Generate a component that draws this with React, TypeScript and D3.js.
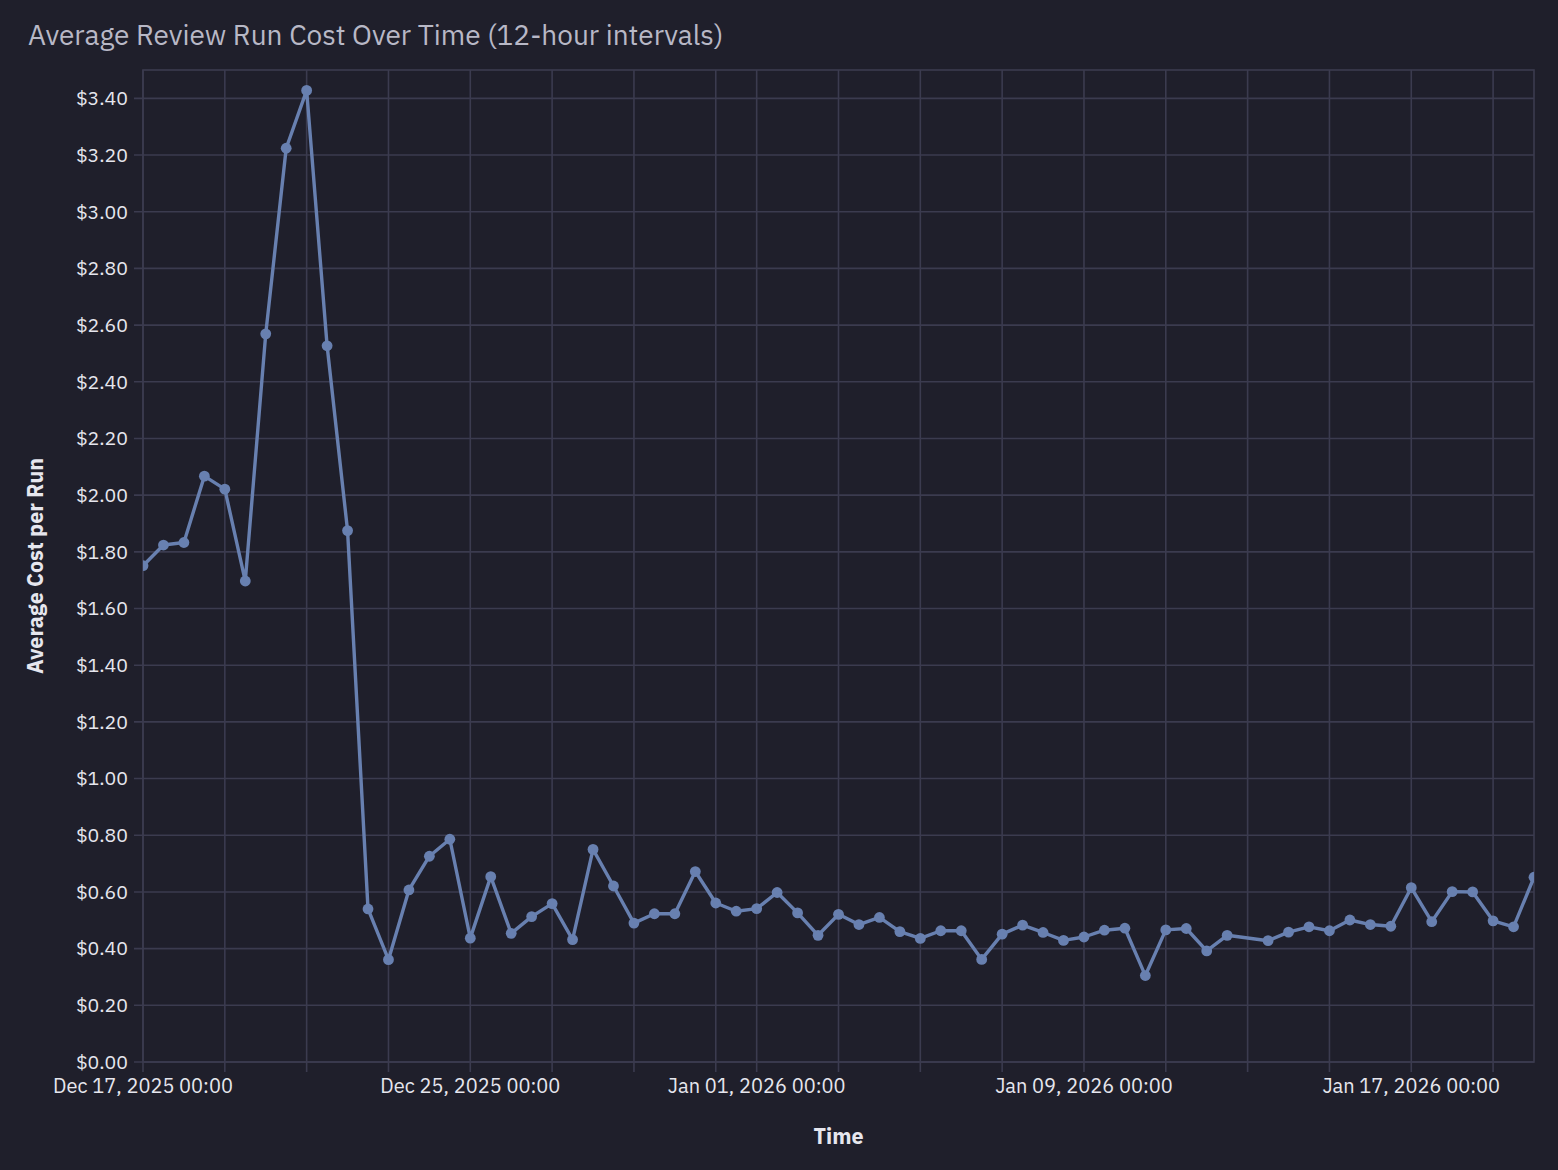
import * as React from "react";
import * as d3 from "d3";

// 12-hour buckets (the Jan 13 00:00 bucket has no data)
const times = [
  "2025-12-17 00:00", "2025-12-17 12:00", "2025-12-18 00:00", "2025-12-18 12:00",
  "2025-12-19 00:00", "2025-12-19 12:00", "2025-12-20 00:00", "2025-12-20 12:00",
  "2025-12-21 00:00", "2025-12-21 12:00", "2025-12-22 00:00", "2025-12-22 12:00",
  "2025-12-23 00:00", "2025-12-23 12:00", "2025-12-24 00:00", "2025-12-24 12:00",
  "2025-12-25 00:00", "2025-12-25 12:00", "2025-12-26 00:00", "2025-12-26 12:00",
  "2025-12-27 00:00", "2025-12-27 12:00", "2025-12-28 00:00", "2025-12-28 12:00",
  "2025-12-29 00:00", "2025-12-29 12:00", "2025-12-30 00:00", "2025-12-30 12:00",
  "2025-12-31 00:00", "2025-12-31 12:00", "2026-01-01 00:00", "2026-01-01 12:00",
  "2026-01-02 00:00", "2026-01-02 12:00", "2026-01-03 00:00", "2026-01-03 12:00",
  "2026-01-04 00:00", "2026-01-04 12:00", "2026-01-05 00:00", "2026-01-05 12:00",
  "2026-01-06 00:00", "2026-01-06 12:00", "2026-01-07 00:00", "2026-01-07 12:00",
  "2026-01-08 00:00", "2026-01-08 12:00", "2026-01-09 00:00", "2026-01-09 12:00",
  "2026-01-10 00:00", "2026-01-10 12:00", "2026-01-11 00:00", "2026-01-11 12:00",
  "2026-01-12 00:00", "2026-01-12 12:00", "2026-01-13 12:00",
  "2026-01-14 00:00", "2026-01-14 12:00", "2026-01-15 00:00", "2026-01-15 12:00",
  "2026-01-16 00:00", "2026-01-16 12:00", "2026-01-17 00:00", "2026-01-17 12:00",
  "2026-01-18 00:00", "2026-01-18 12:00", "2026-01-19 00:00", "2026-01-19 12:00",
  "2026-01-20 00:00",
];

const avgCost = [
  1.751, 1.824, 1.833, 2.067, 2.021, 1.697, 2.569, 3.224, 3.428, 2.527, 1.875, 0.54,
  0.361, 0.607, 0.726, 0.786, 0.437, 0.654, 0.454, 0.513, 0.559, 0.432, 0.75, 0.621,
  0.49, 0.523, 0.523, 0.672, 0.561, 0.532, 0.541, 0.598, 0.526, 0.447, 0.521, 0.485,
  0.51, 0.46, 0.436, 0.463, 0.463, 0.362, 0.451, 0.483, 0.457, 0.429, 0.441, 0.465,
  0.472, 0.305, 0.466, 0.471, 0.392, 0.447, 0.428, 0.458, 0.477, 0.463, 0.501, 0.485,
  0.479, 0.615, 0.495, 0.601, 0.6, 0.498, 0.477, 0.652,
];

const timeRange = ["2025-12-17 00:00", "2026-01-20 00:00"];
const yTicks = [0, 0.2, 0.4, 0.6, 0.8, 1.0, 1.2, 1.4, 1.6, 1.8, 2.0, 2.2, 2.4, 2.6, 2.8, 3.0, 3.2, 3.4];
const yMax = 3.5;

const W = 1558, H = 1170;
const left = 143, right = 1534, top = 70, bottom = 1062;
const FONT = "'IBM Plex Sans', 'Noto Sans', 'Open Sans', sans-serif";
const BG = "#1f1f2b";
const GRID = "#3b3b4f";
const LINE = "#6880b0";
const TEXT = "#e6e6ee";

const parse = d3.timeParse("%Y-%m-%d %H:%M");
const fmt = d3.timeFormat("%b %d, %Y %H:%M");

export default function App() {
  const data = times.map((t, i) => ({ t: parse(t) as Date, v: avgCost[i] }));
  const x = d3.scaleTime()
    .domain(timeRange.map((t) => parse(t) as Date))
    .range([left, right]);
  const y = d3.scaleLinear().domain([0, yMax]).range([bottom, top]);
  const xTicks = x.ticks(d3.timeDay.every(2) as any);
  const line = d3.line<{ t: Date; v: number }>().x((d) => x(d.t)).y((d) => y(d.v));

  React.useEffect(() => {
    document.body.style.margin = "0";
    document.body.style.background = BG;
  }, []);

  return (
    <svg width={W} height={H} style={{ display: "block", background: BG }} fontFamily={FONT}>
      <defs>
        <clipPath id="plot">
          <rect x={left} y={top} width={right - left} height={bottom - top} />
        </clipPath>
      </defs>
      <text x={28} y={45} fontSize={28} fill="#b8b8c6">
        Average Review Run Cost Over Time (12-hour intervals)
      </text>

      {/* grid + ticks */}
      <rect x={left} y={top} width={right - left} height={bottom - top} fill="none" stroke={GRID} strokeWidth={1.6} />
      {yTicks.map((v) => (
        <g key={"y" + v}>
          <line x1={left - 9} x2={right} y1={y(v)} y2={y(v)} stroke={GRID} strokeWidth={1.6} />
          <text x={128} y={y(v)} dy="0.35em" textAnchor="end" fontSize={19.5} fill={TEXT}>
            {"$" + d3.format(".2f")(v)}
          </text>
        </g>
      ))}
      {xTicks.map((d, i) => (
        <g key={"x" + i}>
          <line x1={x(d)} x2={x(d)} y1={top} y2={bottom + 10} stroke={GRID} strokeWidth={1.6} />
          {i % 4 === 0 && (
            <text x={x(d)} y={1093} textAnchor="middle" fontSize={20} fill={TEXT}>
              {fmt(d)}
            </text>
          )}
        </g>
      ))}

      {/* axis titles */}
      <text x={(left + right) / 2} y={1144} textAnchor="middle" fontSize={21.5} fontWeight="bold" fill={TEXT}>
        Time
      </text>
      <text
        transform={`translate(43, ${(top + bottom) / 2}) rotate(-90)`}
        textAnchor="middle"
        fontSize={21.5}
        fontWeight="bold"
        fill={TEXT}
      >
        Average Cost per Run
      </text>

      {/* series */}
      <g clipPath="url(#plot)">
        <path d={line(data) || ""} fill="none" stroke={LINE} strokeWidth={3.4} strokeLinejoin="round" />
        {data.map((d, i) => (
          <circle key={i} cx={x(d.t)} cy={y(d.v)} r={5.4} fill={LINE} />
        ))}
      </g>
    </svg>
  );
}
